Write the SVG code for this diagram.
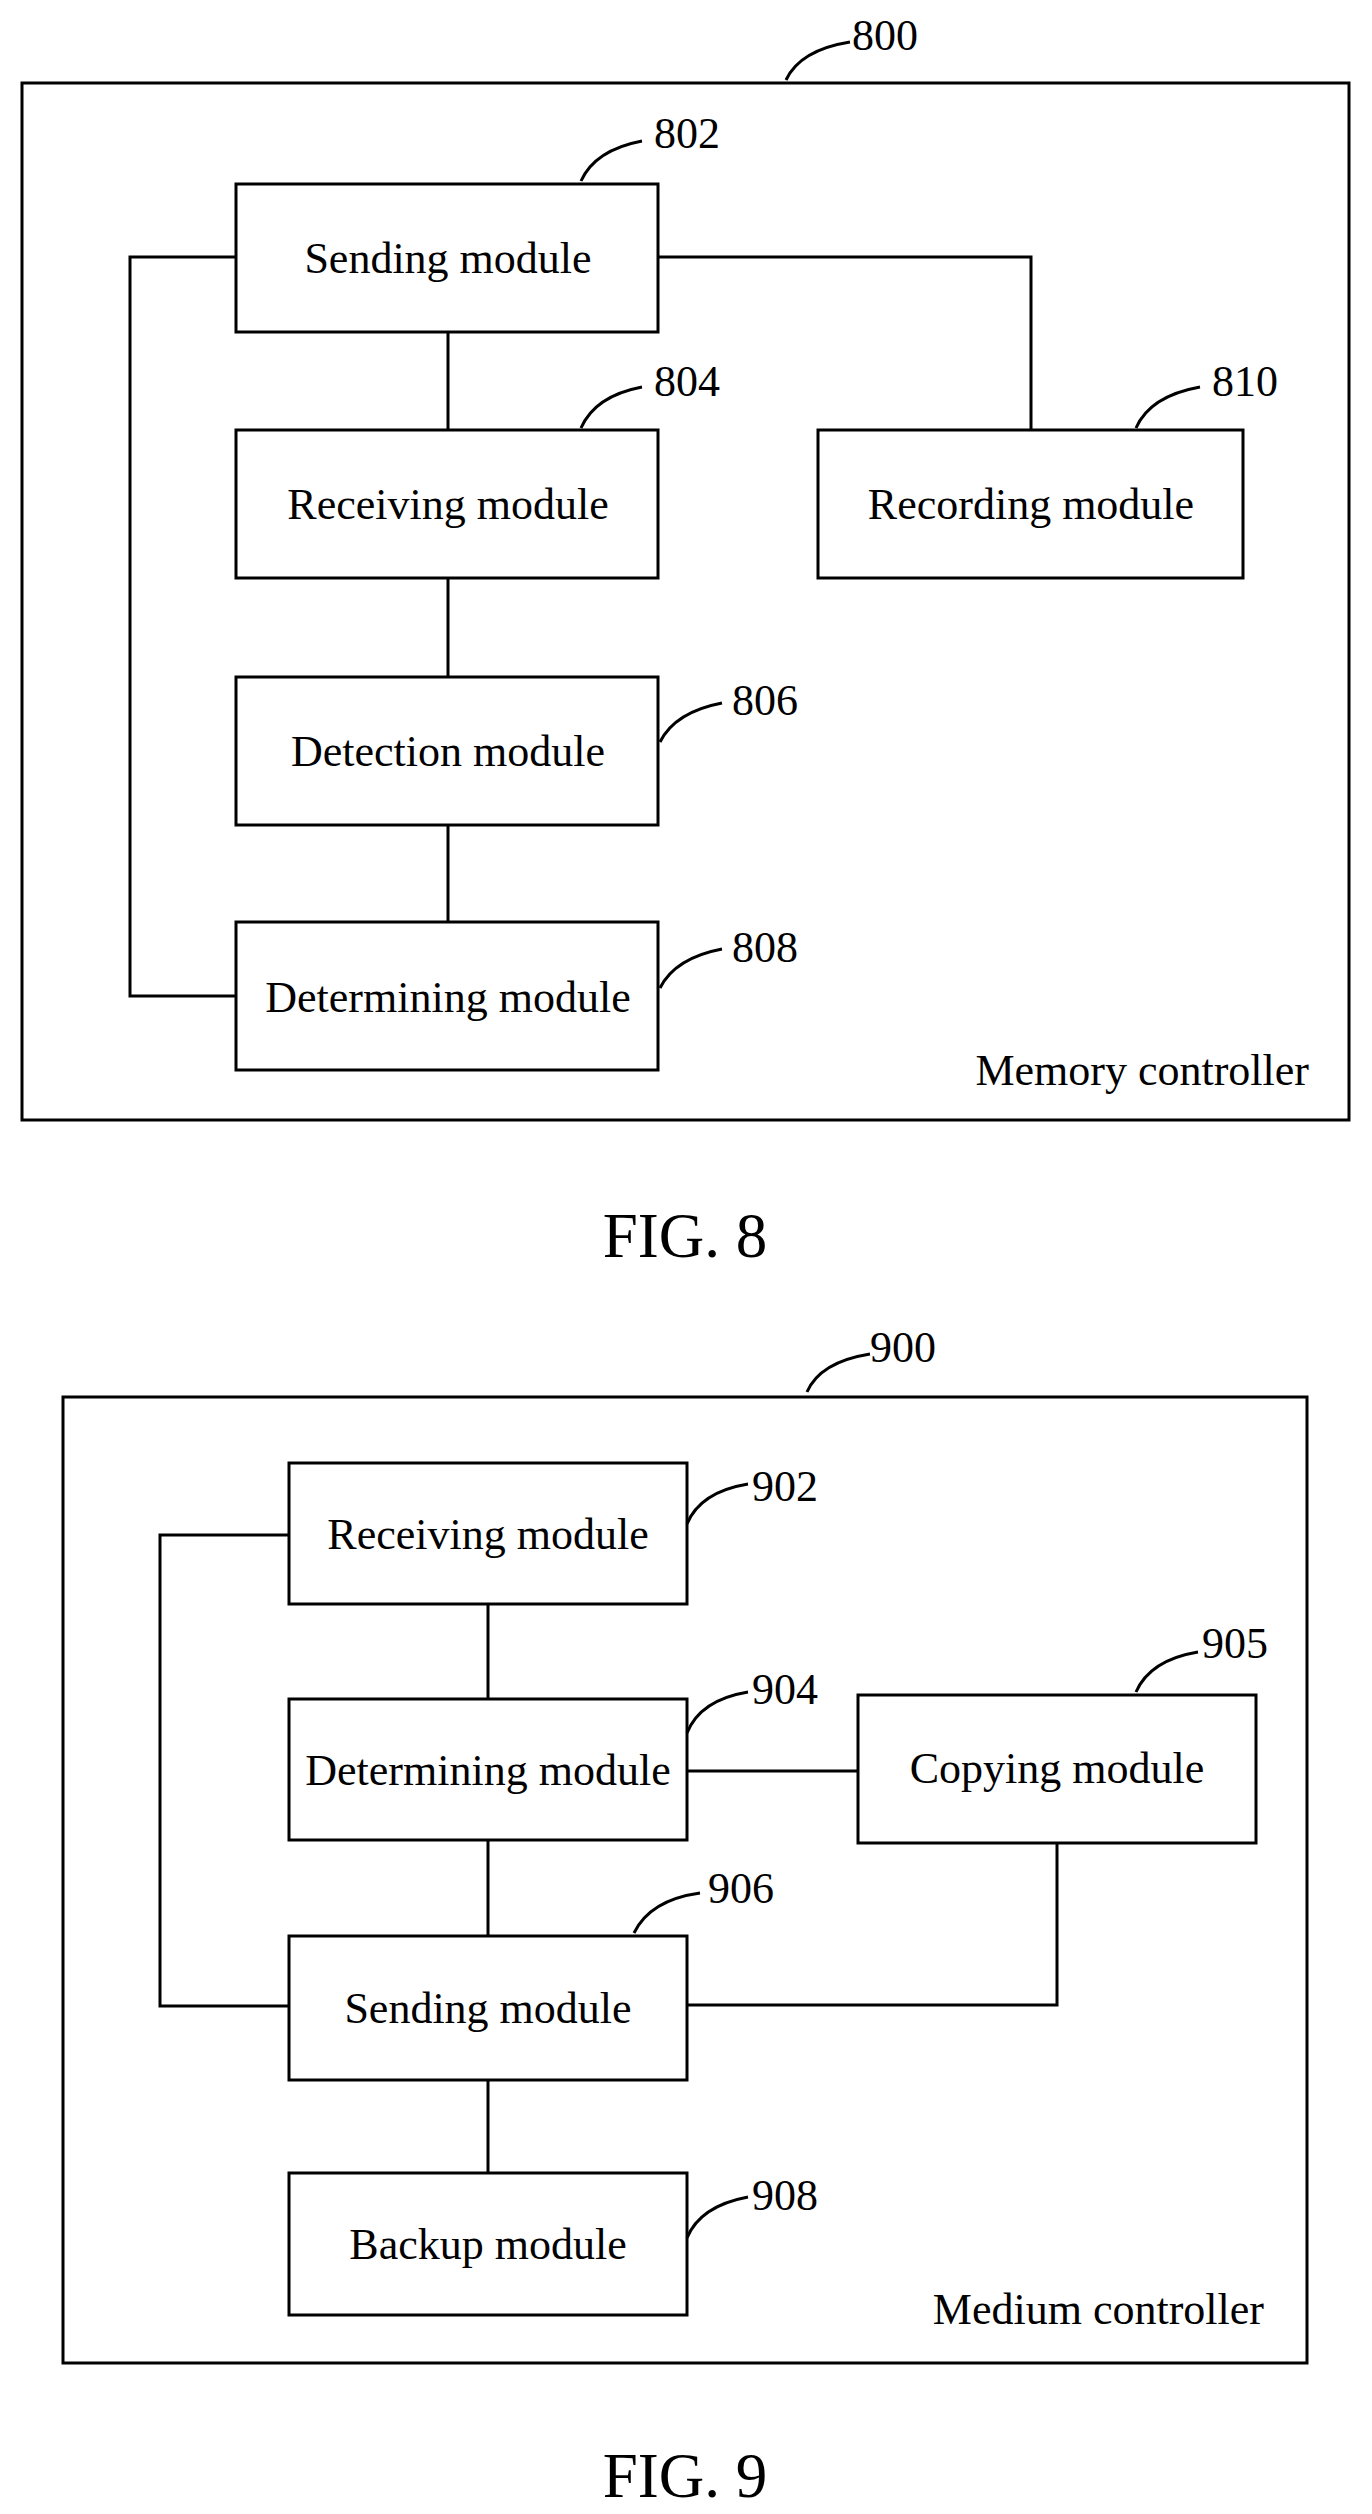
<svg xmlns="http://www.w3.org/2000/svg" width="1372" height="2514" viewBox="0 0 1372 2514">
<style>
rect{fill:#fff;stroke:#000;stroke-width:3}
path{fill:none;stroke:#000;stroke-width:3}
text{font-family:"Liberation Serif",serif;font-size:44px;fill:#000}
.c{text-anchor:middle}
.r{text-anchor:end}
.f{font-size:63px;text-anchor:middle}
</style>
<rect width="1372" height="2514" style="stroke:none"/>
<g id="frame800"><rect x="22" y="83" width="1327" height="1037"/><path d="M786,80 Q800,50 850,42"/><text x="852" y="50">800</text><text class="r" x="1309" y="1085">Memory controller</text></g>
<g id="connectors8">
<path d="M658,257 H1031 V430"/><path d="M236,257 H130 V996 H236"/><path d="M448,332 V430 M448,578 V677 M448,825 V922"/>
</g>
<g id="n802"><rect x="236" y="184" width="422" height="148"/><text class="c" x="448" y="273">Sending module</text><path d="M581,181 Q595,150 642,141"/><text x="654" y="148">802</text></g>
<g id="n804"><rect x="236" y="430" width="422" height="148"/><text class="c" x="448" y="519">Receiving module</text><path d="M581,428 Q595,396 642,387"/><text x="654" y="396">804</text></g>
<g id="n806"><rect x="236" y="677" width="422" height="148"/><text class="c" x="448" y="766">Detection module</text><path d="M660,742 Q675,712 722,703"/><text x="732" y="715">806</text></g>
<g id="n808"><rect x="236" y="922" width="422" height="148"/><text class="c" x="448" y="1012">Determining module</text><path d="M660,988 Q675,958 722,949"/><text x="732" y="962">808</text></g>
<g id="n810"><rect x="818" y="430" width="425" height="148"/><text class="c" x="1031" y="519">Recording module</text><path d="M1136,428 Q1150,396 1200,387"/><text x="1212" y="396">810</text></g>
<text class="f" x="685" y="1257">FIG. 8</text>

<g id="frame900"><rect x="63" y="1397" width="1244" height="966"/><path d="M807,1392 Q820,1362 870,1354"/><text x="870" y="1362">900</text><text class="r" x="1264" y="2324">Medium controller</text></g>
<g id="connectors9">
<path d="M687,1771 H858"/><path d="M1057,1843 V2005 H687"/><path d="M289,1535 H160 V2006 H289"/><path d="M488,1604 V1699 M488,1840 V1936 M488,2080 V2173"/>
</g>
<g id="n902"><rect x="289" y="1463" width="398" height="141"/><text class="c" x="488" y="1549">Receiving module</text><path d="M687,1524 Q700,1492 748,1484"/><text x="752" y="1501">902</text></g>
<g id="n904"><rect x="289" y="1699" width="398" height="141"/><text class="c" x="488" y="1785">Determining module</text><path d="M687,1733 Q700,1700 748,1692"/><text x="752" y="1704">904</text></g>
<g id="n905"><rect x="858" y="1695" width="398" height="148"/><text class="c" x="1057" y="1783">Copying module</text><path d="M1136,1692 Q1150,1660 1198,1652"/><text x="1202" y="1658">905</text></g>
<g id="n906"><rect x="289" y="1936" width="398" height="144"/><text class="c" x="488" y="2023">Sending module</text><path d="M634,1933 Q650,1900 700,1893"/><text x="708" y="1903">906</text></g>
<g id="n908"><rect x="289" y="2173" width="398" height="142"/><text class="c" x="488" y="2259">Backup module</text><path d="M687,2238 Q700,2206 748,2197"/><text x="752" y="2210">908</text></g>
<text class="f" x="685" y="2497">FIG. 9</text>
</svg>
